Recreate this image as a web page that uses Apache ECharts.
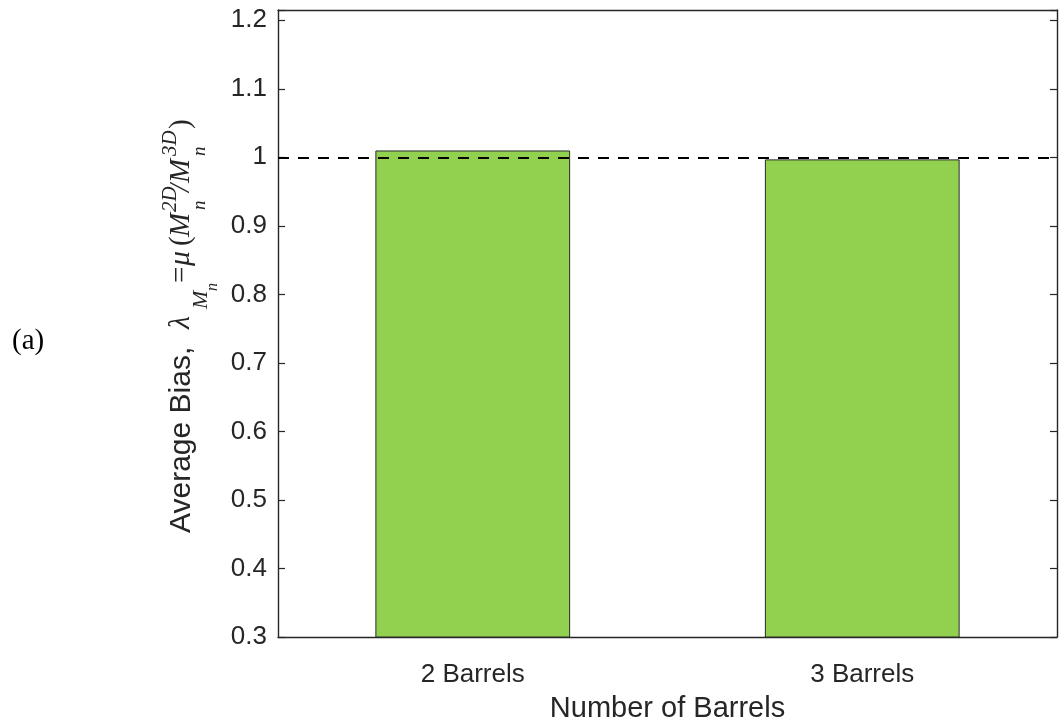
<!DOCTYPE html>
<html><head><meta charset="utf-8">
<script src="https://cdn.jsdelivr.net/npm/echarts@6/dist/echarts.min.js"></script>
<style>html,body{margin:0;padding:0;background:#fff}#c{width:1059px;height:722px}</style>
</head><body><div id="c"></div>
<script>
// ---- data ----
const categories = ['2 Barrels', '3 Barrels'];
const biasValues = [1.010, 0.997];
const referenceValue = 1;
const yMin = 0.3, yMax = 1.215, yStep = 0.1;
const xTitle = 'Number of Barrels';
const yTitleWords = 'Average Bias,';
const panelTag = '(a)';

// ---- styles ----
const INK = '#262626';
const SANS = '"Liberation Sans", Arial, Helvetica, sans-serif';
const SERIF = '"Liberation Serif", "Times New Roman", serif';

function sym(text, x, base, size, italic) {
  return {
    type: 'text', x: x, y: base - 0.32 * size,
    style: {
      text: text, fill: INK, align: 'left', verticalAlign: 'middle',
      font: (italic ? 'italic ' : '') + size + 'px ' + SERIF
    }
  };
}

const yTitleChildren = [
  { type: 'text', x: 0, y: -0.32 * 30,
    style: { text: yTitleWords, fill: INK, align: 'left', verticalAlign: 'middle', font: '30px ' + SANS } },
  sym('\u03bb', 204, 0, 30, true),
  sym('M', 224, 17, 22, true),
  sym('n', 242, 27, 16, true),
  sym('=', 250, 0, 29, false),
  sym('\u03bc', 267, 0, 30, true),
  sym('(', 287, 0, 29, false),
  sym('M', 296, 0, 29, true),
  sym('2D', 321, -14, 21, true),
  sym('n', 323, 15, 19, true),
  sym('/', 341, 0, 29, true),
  sym('M', 350, 0, 29, true),
  sym('3D', 377, -14, 21, true),
  sym('n', 377, 15, 19, true),
  sym(')', 404, 0, 29, false)
];

const chart = echarts.init(document.getElementById('c'), null, { renderer: 'canvas' });

const yLabelFmt = v => {
  const r = Math.round(v * 10) / 10;
  return Math.abs(r - v) < 1e-6 ? String(r) : '';
};

const option = {
  animation: false,
  backgroundColor: '#fff',
  grid: { left: 278, right: 2, top: 10, bottom: 85, containLabel: false, outerBoundsMode: 'none' },
  xAxis: [
    {
      type: 'category', data: categories, position: 'bottom',
      axisLine: { show: true, lineStyle: { color: INK, width: 1.4 } },
      axisTick: { show: true, inside: true, alignWithLabel: true, length: 7, lineStyle: { color: INK, width: 1.2 } },
      axisLabel: { fontSize: 26, color: INK, fontFamily: SANS, margin: 25 },
      name: xTitle, nameLocation: 'middle', nameGap: 57,
      nameTextStyle: { fontSize: 29, color: INK, fontFamily: SANS },
      splitLine: { show: false }
    },
    {
      type: 'category', data: categories, position: 'top',
      axisLine: { show: true, lineStyle: { color: INK, width: 1.4 } },
      axisTick: { show: false }, axisLabel: { show: false }, splitLine: { show: false }
    }
  ],
  yAxis: [
    {
      type: 'value', min: yMin, max: yMax, interval: yStep, position: 'left',
      axisLine: { show: true, lineStyle: { color: INK, width: 1.4 } },
      axisTick: { show: true, inside: true, length: 7, lineStyle: { color: INK, width: 1.2 } },
      axisLabel: { fontSize: 26, color: INK, fontFamily: SANS, margin: 11, formatter: yLabelFmt },
      splitLine: { show: false }
    },
    {
      type: 'value', min: yMin, max: yMax, interval: yStep, position: 'right',
      axisLine: { show: true, lineStyle: { color: INK, width: 1.4 } },
      axisTick: { show: true, inside: true, length: 7, lineStyle: { color: INK, width: 1.2 } },
      axisLabel: { show: false }, splitLine: { show: false }
    }
  ],
  series: [
    {
      type: 'bar', data: biasValues, xAxisIndex: 0, yAxisIndex: 0,
      barWidth: '50%',
      itemStyle: { color: '#92D050', borderColor: '#2b2b2b', borderWidth: 1 },
      markLine: {
        silent: true, symbol: ['none', 'none'],
        label: { show: false },
        lineStyle: { type: [11, 9], color: '#000', width: 2 },
        data: [{ yAxis: referenceValue }]
      }
    }
  ],
  graphic: [
    { type: 'group', x: 191, y: 533, rotation: Math.PI / 2, children: yTitleChildren },
    { type: 'text', x: 12, y: 341,
      style: { text: panelTag, fill: '#000', align: 'left', verticalAlign: 'middle', font: '29px ' + SERIF } }
  ]
};
chart.setOption(option);
</script>
</body></html>
